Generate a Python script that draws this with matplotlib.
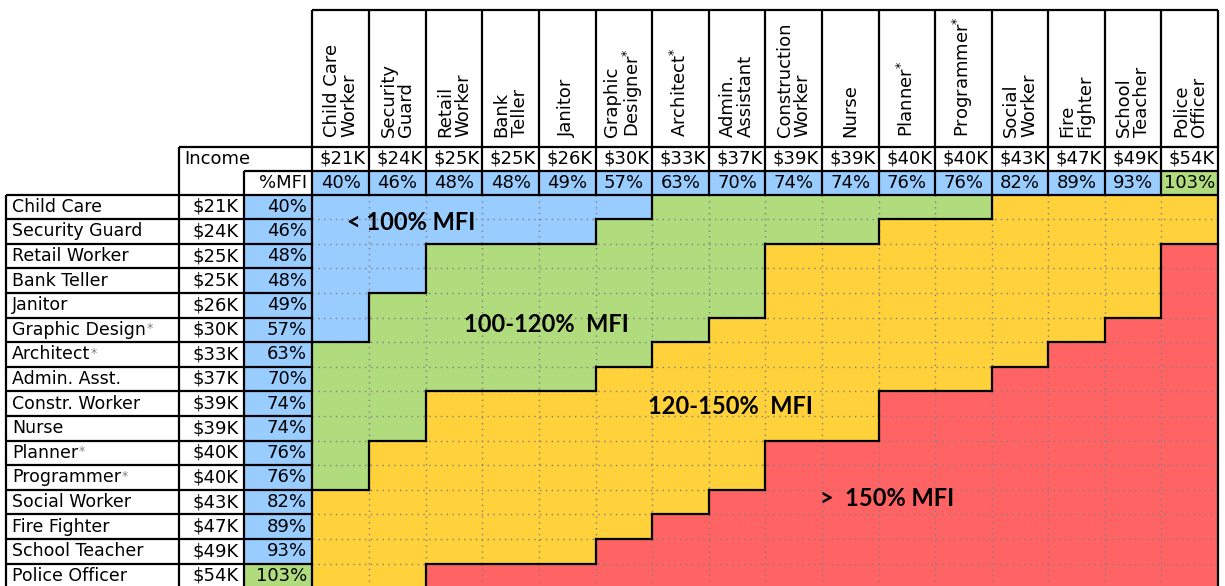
import numpy as np
import matplotlib
matplotlib.use("Agg")
import matplotlib.pyplot as plt
from matplotlib.colors import ListedColormap, BoundaryNorm
from matplotlib.collections import LineCollection

# ---------------- data ----------------
row_names = ["Child Care", "Security Guard", "Retail Worker", "Bank Teller", "Janitor",
             "Graphic Design", "Architect", "Admin. Asst.", "Constr. Worker", "Nurse",
             "Planner", "Programmer", "Social Worker", "Fire Fighter", "School Teacher",
             "Police Officer"]
col_names = ["Child Care\nWorker", "Security\nGuard", "Retail\nWorker", "Bank\nTeller",
             "Janitor", "Graphic\nDesigner", "Architect", "Admin.\nAssistant",
             "Construction\nWorker", "Nurse", "Planner", "Programmer", "Social\nWorker",
             "Fire\nFighter", "School\nTeacher", "Police\nOfficer"]
starred = [False, False, False, False, False, True, True, False, False, False,
           True, True, False, False, False, False]
incomes_k = [21, 24, 25, 25, 26, 30, 33, 37, 39, 39, 40, 40, 43, 47, 49, 54]
pct_mfi = [40, 46, 48, 48, 49, 57, 63, 70, 74, 74, 76, 76, 82, 89, 93, 103]

# first column (per row) where each household band begins (16 = never)
green_start = [6, 5, 2, 2, 1, 1, 0, 0, 0, 0, 0, 0, 0, 0, 0, 0]
yellow_start = [12, 10, 8, 8, 8, 7, 6, 5, 2, 2, 1, 1, 0, 0, 0, 0]
red_start = [16, 16, 15, 15, 15, 14, 13, 12, 10, 10, 8, 8, 7, 6, 5, 2]

band_labels = ["< 100% MFI", "100-120%  MFI", "120-150%  MFI", ">  150% MFI"]
band_colors = ["#99CCFF", "#B0DC7E", "#FFD13B", "#FF6363"]

# ---------------- layout (pixels) ----------------
W, H = 1225, 586
X0, CW = 312.5, 56.6      # data grid left edge, column width
Y0, RH = 194.5, 24.6      # data grid top edge, row height


def px_x(p):
    return (p - X0) / CW


def px_y(p):
    return (p - Y0) / RH


n = len(row_names)
cat = np.array([[(j >= green_start[i]) + (j >= yellow_start[i]) + (j >= red_start[i])
                 for j in range(n)] for i in range(n)])

cmap = ListedColormap(band_colors)
norm = BoundaryNorm([-0.5, 0.5, 1.5, 2.5, 3.5], cmap.N)
pct_norm = BoundaryNorm([0, 100, 120.5, 150, 1000], cmap.N)

fig = plt.figure(figsize=(W / 100, H / 100), dpi=100)
ax = fig.add_axes([0, 0, 1, 1])
ax.set_xlim(px_x(0), px_x(W))
ax.set_ylim(px_y(H), px_y(0))
ax.axis("off")

FS_NAME = 12.5
FS_NUM = 13
FS_HEAD = 13
FONT = "DejaVu Sans"

x_name = px_x(6)
x_inc = px_x(179)
x_pct = px_x(244)
y_top = px_y(10)
y_inc = px_y(147)
y_pct = px_y(171)
y_bot = n

# main grid cells
edges = np.arange(n + 1)
ax.pcolormesh(edges, edges, cat, cmap=cmap, norm=norm, zorder=1)

# %MFI column cells (left table) and header row cells
pct_arr = np.array(pct_mfi, dtype=float)
ax.pcolormesh([x_pct, 0], edges, pct_arr.reshape(-1, 1), cmap=cmap, norm=pct_norm, zorder=1)
ax.pcolormesh(edges, [y_pct, 0], pct_arr.reshape(1, -1), cmap=cmap, norm=pct_norm, zorder=1)

# dotted grid inside the data area
grid_kw = dict(colors="#808080", linewidth=1.0, linestyles=(0, (1, 3.2)), zorder=2)
ax.vlines(np.arange(1, n), 0, y_bot, **grid_kw)
ax.hlines(np.arange(1, n), 0, n, **grid_kw)

# black band boundaries
segs = []
for i in range(n):
    for j in range(n):
        if j + 1 < n and cat[i, j] != cat[i, j + 1]:
            segs.append([(j + 1, i), (j + 1, i + 1)])
        if i + 1 < n and cat[i, j] != cat[i + 1, j]:
            segs.append([(j, i + 1), (j + 1, i + 1)])
ax.add_collection(LineCollection(segs, colors="black", linewidths=1.6,
                                 capstyle="projecting", zorder=4))

# table borders
bk = dict(colors="black", linewidth=1.6, zorder=5)
ax.vlines(np.arange(0, n + 1), y_top, 0, **bk)
ax.hlines(y_top, 0, n, **bk)
ax.hlines(y_inc, x_inc, n, **bk)
ax.hlines(y_pct, x_pct, n, **bk)
ax.hlines(0, x_name, n, **bk)
ax.vlines([0, n], 0, y_bot, **bk)
ax.vlines(x_inc, y_inc, y_bot, **bk)
ax.vlines(x_pct, y_pct, y_bot, **bk)
ax.vlines(x_name, 0, y_bot, **bk)
ax.hlines(np.arange(1, n + 1), x_name, 0, **bk)

# column headers
for j, lab in enumerate(col_names):
    txt = lab + (r"$^{*}$" if starred[j] else "")
    ax.text(j + 0.5, px_y(137), txt, rotation=90, ha="center", va="bottom",
            multialignment="left", fontsize=FS_HEAD, family=FONT, linespacing=1.0,
            zorder=6)

# header income / pct rows
y_inc_c = (y_inc + y_pct) / 2
y_pct_c = y_pct / 2
ax.text(px_x(184), y_inc_c, "Income", ha="left", va="center",
        fontsize=FS_NUM, family=FONT, zorder=6)
ax.text(px_x(307), y_pct_c, "%MFI", ha="right", va="center",
        fontsize=FS_NUM, family=FONT, zorder=6)
for j in range(n):
    ax.text(j + 1 - 3 / CW, y_inc_c, f"${incomes_k[j]}K", ha="right", va="center",
            fontsize=FS_NUM, family=FONT, zorder=6)
    ax.text(j + 0.5, y_pct_c, f"{pct_mfi[j]}%", ha="center", va="center",
            fontsize=FS_NUM, family=FONT, zorder=6)

# row labels
for i in range(n):
    yc = i + 0.5
    t = ax.text(px_x(12), yc, row_names[i], ha="left", va="center",
                fontsize=FS_NAME, family=FONT, zorder=6)
    if starred[i]:
        ax.annotate("*", xy=(1, 1), xycoords=t, xytext=(0.5, -1),
                    textcoords="offset points", ha="left", va="top",
                    fontsize=9, color="#808080", family=FONT, zorder=6)
    ax.text(px_x(239), yc, f"${incomes_k[i]}K", ha="right", va="center",
            fontsize=FS_NUM, family=FONT, zorder=6)
    ax.text(px_x(307), yc, f"{pct_mfi[i]}%", ha="right", va="center",
            fontsize=FS_NUM, family=FONT, zorder=6)

# band labels
label_pos_px = [(411, 223), (546, 324), (730, 407), (887, 498)]
for lab, (px, py) in zip(band_labels, label_pos_px):
    ax.text(px_x(px), px_y(py), lab, ha="center", va="center", fontsize=17,
            fontweight="bold", family=["Lato", "DejaVu Sans"], zorder=7)

fig.savefig("out.png", dpi=100)
